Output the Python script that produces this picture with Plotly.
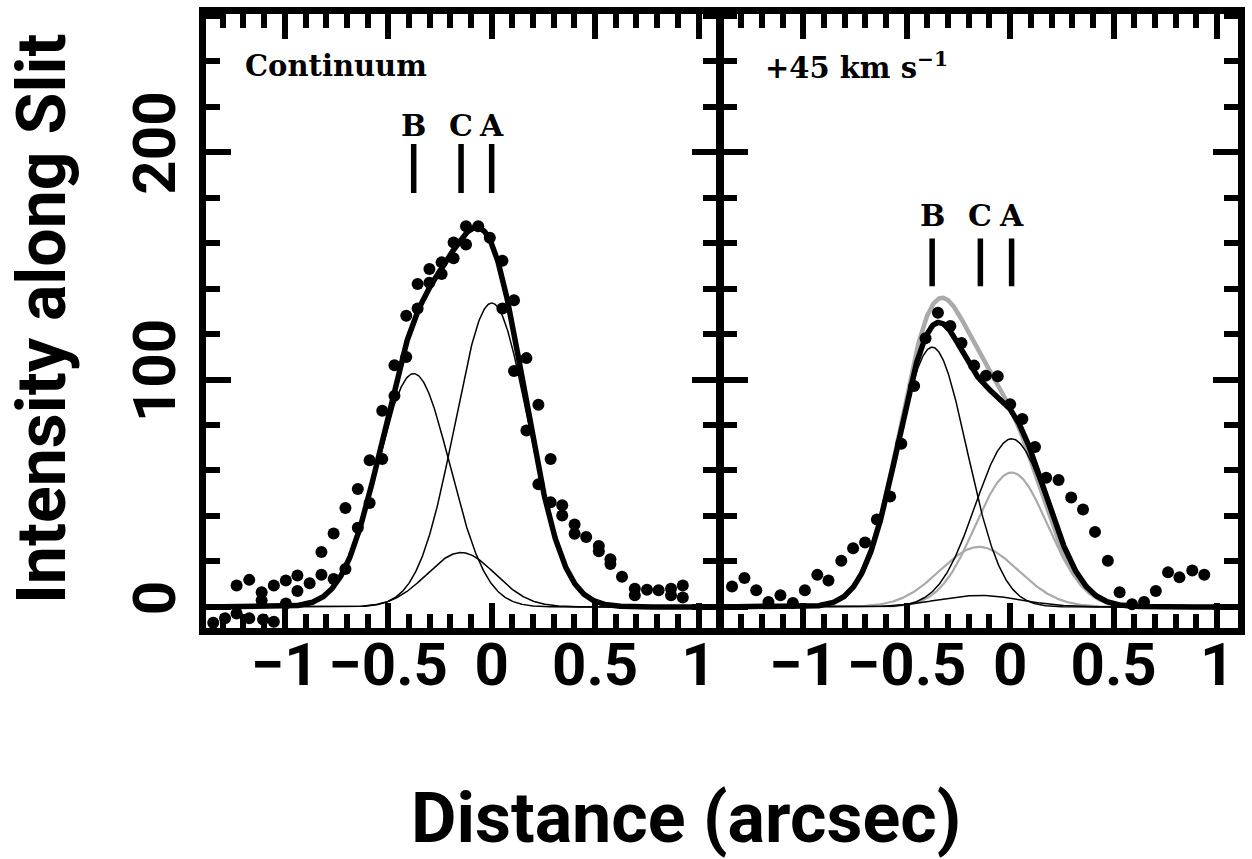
import numpy as np
import plotly.graph_objects as go

# ---------------- data ----------------
# Left panel: Continuum profile points
cont_x = [-1.346, -1.289, -1.233, -1.233, -1.172, -1.172, -1.112, -1.112, -1.105,
          -1.053, -1.053, -0.995, -0.995, -0.939, -0.939, -0.880, -0.823, -0.823,
          -0.764, -0.764, -0.707, -0.707, -0.647, -0.647, -0.590, -0.590, -0.529,
          -0.529, -0.470, -0.470, -0.413, -0.413, -0.358, -0.358, -0.301, -0.301,
          -0.242, -0.242, -0.184, -0.184, -0.124, -0.124, -0.065, -0.009, 0.052,
          0.052, 0.108, 0.108, 0.168, 0.168, 0.226, 0.226, 0.285, 0.285, 0.341,
          0.341, 0.401, 0.401, 0.457, 0.518, 0.518, 0.574, 0.574, 0.630, 0.692,
          0.692, 0.751, 0.807, 0.867, 0.867, 0.924, 0.924]
cont_y = [-7.0, -5.0, 9.4, -2.9, 11.9, -5.0, 6.5, 2.9, -5.5,
          9.4, -6.5, 11.6, 1.5, 13.8, 7.0, 10.4, 24.2, 14.2,
          32.3, 12.3, 43.5, 16.7, 51.9, 34.8, 64.5, 45.7, 86.3,
          65.0, 106.3, 92.8, 128.0, 109.9, 142.0, 131.2, 148.6, 142.5,
          151.5, 146.4, 160.2, 153.3, 167.4, 159.4, 167.4, 162.3, 152.2,
          131.2, 134.8, 103.7, 109.4, 77.6, 88.9, 53.9, 65.0, 46.0, 44.7,
          40.2, 36.3, 32.2, 30.7, 26.8, 24.5, 21.0, 18.9, 13.3, 8.0,
          5.1, 7.6, 7.3, 8.0, 5.1, 9.4, 4.1]

# Right panel: +45 km/s profile points
vel_x = [-1.344, -1.284, -1.227, -1.168, -1.110, -1.050, -0.992, -0.932, -0.878,
         -0.816, -0.759, -0.701, -0.644, -0.580, -0.526, -0.464, -0.409, -0.349,
         -0.289, -0.235, -0.174, -0.117, -0.060, 0.000, 0.059, 0.120, 0.174,
         0.234, 0.295, 0.352, 0.410, 0.472, 0.529, 0.589, 0.647, 0.704, 0.763,
         0.818, 0.880, 0.938]
vel_y = [9.0, 12.7, 7.3, 2.2, 5.1, 1.7, 7.3, 14.1, 11.6,
         20.3, 25.8, 28.3, 38.4, 48.6, 71.7, 97.1, 118.1, 129.3,
         123.5, 116.0, 106.1, 101.7, 101.4, 89.1, 82.6, 70.3, 56.8,
         55.8, 48.1, 42.8, 33.0, 20.3, 6.5, 1.2, 2.2, 7.0, 15.2,
         13.0, 16.0, 14.2]

# Gaussian fit components (amplitude, centre, sigma) for B, C, A
comp_names = ["B", "C", "A"]
cont_amp = [102.6, 23.9, 133.6]
cont_cen = [-0.377, -0.148, 0.0]
cont_sig = [0.175, 0.165, 0.177]

vel_amp_black = [114.2, 5.1, 73.9]
vel_amp_gray = [114.2, 26.4, 59.1]
vel_cen = [-0.377, -0.150, 0.007]
vel_sig_black = [0.168, 0.20, 0.175]
vel_sig_gray = [0.168, 0.19, 0.175]

# Component position markers
cont_mark_x = [-0.377, -0.148, 0.0]
cont_mark_y = [182.0, 203.5]
cont_label_y = 211.6
vel_mark_x = [-0.377, -0.144, 0.007]
vel_mark_y = [141.0, 162.0]
vel_label_y = 172.2

x_ticks = [-1, -0.5, 0, 0.5, 1]
x_tick_text = ["\u22121", "\u22120.5", "0", "0.5", "1"]
y_ticks = [0, 100, 200]
y_tick_text = ["0", "100", "200"]
x_range_left = [-1.381, 1.087]
x_range_right = [-1.390, 1.101]
y_range = [-9.26, 260.7]

# ---------------- figure ----------------
grid = np.linspace(-1.4, 1.12, 800)


def gauss(a, c, s):
    return a * np.exp(-0.5 * ((grid - c) / s) ** 2)


fig = go.Figure()
GRAY = "#aaaaaa"
DOT = 12

# Left panel components
cont_comps = [gauss(a, c, s) for a, c, s in zip(cont_amp, cont_cen, cont_sig)]
for comp in cont_comps:
    fig.add_trace(go.Scatter(x=grid, y=comp, mode="lines",
                             line=dict(color="black", width=1.5),
                             xaxis="x", yaxis="y", showlegend=False))
fig.add_trace(go.Scatter(x=grid, y=sum(cont_comps), mode="lines",
                         line=dict(color="black", width=5.5),
                         xaxis="x", yaxis="y", showlegend=False))
fig.add_trace(go.Scatter(x=cont_x, y=cont_y, mode="markers",
                         marker=dict(color="black", size=DOT),
                         xaxis="x", yaxis="y", showlegend=False))

# Right panel: gray alternative fit
gray_comps = [gauss(a, c, s) for a, c, s in zip(vel_amp_gray, vel_cen, vel_sig_gray)]
for comp in gray_comps[1:]:
    fig.add_trace(go.Scatter(x=grid, y=comp, mode="lines",
                             line=dict(color=GRAY, width=2.2),
                             xaxis="x2", yaxis="y2", showlegend=False))
fig.add_trace(go.Scatter(x=grid, y=sum(gray_comps), mode="lines",
                         line=dict(color=GRAY, width=4.5),
                         xaxis="x2", yaxis="y2", showlegend=False))
black_comps = [gauss(a, c, s) for a, c, s in zip(vel_amp_black, vel_cen, vel_sig_black)]
for comp in black_comps:
    fig.add_trace(go.Scatter(x=grid, y=comp, mode="lines",
                             line=dict(color="black", width=1.5),
                             xaxis="x2", yaxis="y2", showlegend=False))
fig.add_trace(go.Scatter(x=grid, y=sum(black_comps), mode="lines",
                         line=dict(color="black", width=5.5),
                         xaxis="x2", yaxis="y2", showlegend=False))
fig.add_trace(go.Scatter(x=vel_x, y=vel_y, mode="markers",
                         marker=dict(color="black", size=DOT),
                         xaxis="x2", yaxis="y2", showlegend=False))

# Position markers with letters
LETTER_FONT = dict(family="DejaVu Serif", size=30, color="black")
for mx, name in zip(cont_mark_x, comp_names):
    fig.add_trace(go.Scatter(x=[mx, mx], y=cont_mark_y, mode="lines",
                             line=dict(color="black", width=5.5),
                             xaxis="x", yaxis="y", showlegend=False))
    fig.add_annotation(x=mx, y=cont_label_y, xref="x", yref="y", text="<b>%s</b>" % name,
                       showarrow=False, xanchor="center", yanchor="middle",
                       font=LETTER_FONT)
for mx, name in zip(vel_mark_x, comp_names):
    fig.add_trace(go.Scatter(x=[mx, mx], y=vel_mark_y, mode="lines",
                             line=dict(color="black", width=5.5),
                             xaxis="x2", yaxis="y2", showlegend=False))
    fig.add_annotation(x=mx, y=vel_label_y, xref="x2", yref="y2", text="<b>%s</b>" % name,
                       showarrow=False, xanchor="center", yanchor="middle",
                       font=LETTER_FONT)

TICKFONT = dict(family="Roboto", size=60, color="black", weight="bold")
MAJOR_LEN, MINOR_LEN, TICK_W = 25, 14, 6


def xaxis_cfg(domain, rng, anchor):
    return dict(domain=domain, range=rng, tickmode="array", tickvals=x_ticks,
                ticktext=x_tick_text, ticks="inside", ticklen=MAJOR_LEN, tickwidth=TICK_W,
                tickcolor="black",
                minor=dict(dtick=0.1, tick0=0, ticks="inside", ticklen=MINOR_LEN,
                           tickwidth=TICK_W, tickcolor="black", showgrid=False),
                showline=True, linewidth=7, linecolor="black", mirror="allticks",
                showgrid=False, zeroline=False, tickfont=TICKFONT,
                ticklabelstandoff=-22, anchor=anchor)


def yaxis_cfg(anchor, labels):
    return dict(range=y_range, tickmode="array", tickvals=y_ticks, ticktext=y_tick_text,
                ticks="inside", ticklen=MAJOR_LEN, tickwidth=TICK_W, tickcolor="black",
                minor=dict(dtick=20, tick0=0, ticks="inside", ticklen=MINOR_LEN,
                           tickwidth=TICK_W, tickcolor="black", showgrid=False),
                showline=True, linewidth=7, linecolor="black", mirror="allticks",
                showgrid=False, zeroline=False, anchor=anchor, tickangle=-90,
                tickfont=TICKFONT, showticklabels=labels, ticklabelstandoff=0)


fig.update_layout(
    width=1252, height=859,
    margin=dict(l=206, r=11, t=7, b=231),
    paper_bgcolor="white", plot_bgcolor="white",
    xaxis=xaxis_cfg([0, 0.4947], x_range_left, "y"),
    xaxis2=xaxis_cfg([0.5005, 1], x_range_right, "y2"),
    yaxis=yaxis_cfg("x", True),
    yaxis2=dict(yaxis_cfg("x2", False), matches="y"),
    showlegend=False,
)

# Panel labels
fig.add_annotation(x=0.0357, y=0.9147, xref="paper", yref="paper",
                   text="<b>Continuum</b>", showarrow=False, xanchor="left", yanchor="middle",
                   font=dict(family="DejaVu Serif", size=29, color="black"))
fig.add_annotation(x=0.5401, y=0.9147, xref="paper", yref="paper",
                   text="<b>+45 km s<sup>\u22121</sup></b>", showarrow=False,
                   xanchor="left", yanchor="middle",
                   font=dict(family="DejaVu Serif", size=29, color="black"))

# Axis titles
fig.add_annotation(x=0.4652, y=-0.3101, xref="paper", yref="paper",
                   text="Distance (arcsec)", showarrow=False,
                   xanchor="center", yanchor="middle",
                   font=dict(family="Roboto", size=70, color="black", weight="bold"))
fig.add_annotation(x=-0.1594, y=0.504, xref="paper", yref="paper",
                   text="Intensity along Slit", showarrow=False, textangle=-90,
                   xanchor="center", yanchor="middle",
                   font=dict(family="Roboto", size=68, color="black", weight="bold"))

fig.write_html("out.html",
               config={"displayModeBar": False},
               post_script="document.body.style.margin='0';"
                           "document.body.style.overflow='hidden';")
